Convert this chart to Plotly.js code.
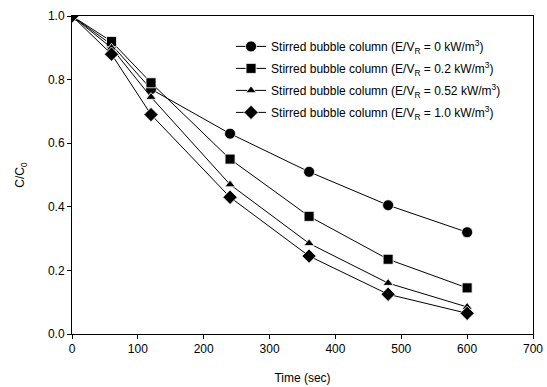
<!DOCTYPE html>
<html><head><meta charset="utf-8">
<script src="https://cdn.plot.ly/plotly-3.0.1.min.js"></script>
<style>body{margin:0;background:#fff}#g{width:547px;height:387px}</style>
</head><body><div id="g"></div>
<script>
const time = [0, 60, 120, 240, 360, 480, 600];
const s0 = [1.0, 0.91, 0.77, 0.63, 0.51, 0.405, 0.32];
const s02 = [1.0, 0.92, 0.79, 0.55, 0.37, 0.235, 0.145];
const s052 = [1.0, 0.90, 0.745, 0.47, 0.285, 0.16, 0.085];
const s10 = [1.0, 0.88, 0.69, 0.43, 0.245, 0.125, 0.065];
const names = [
  'Stirred bubble column (E/V<sub>R</sub> = 0 kW/m<sup>3</sup>)',
  'Stirred bubble column (E/V<sub>R</sub> = 0.2 kW/m<sup>3</sup>)',
  'Stirred bubble column (E/V<sub>R</sub> = 0.52 kW/m<sup>3</sup>)',
  'Stirred bubble column (E/V<sub>R</sub> = 1.0 kW/m<sup>3</sup>)'
];
const series = [s0, s02, s052, s10];
const symbols = ['circle', 'square', 'triangle-up', 'diamond'];
const sizes = [11, 10, 9, 11];
const traces = series.map((s, i) => ({
  x: time, y: s, name: names[i], type: 'scatter', mode: 'lines+markers',
  legendgroup: 'g' + i,
  line: {color: '#000', width: 1},
  marker: {symbol: symbols[i], size: sizes[i], color: '#000', line: {color: '#fff', width: 0.8}}
}));
const layout = {
  width: 547, height: 387,
  margin: {l: 72, r: 14, t: 16, b: 53},
  paper_bgcolor: '#fff', plot_bgcolor: '#fff',
  font: {family: 'Liberation Sans, Arial, sans-serif', size: 12, color: '#000'},
  showlegend: true,
  legend: {x: 0.345, y: 0.95, xanchor: 'left', yanchor: 'top', bgcolor: 'rgba(0,0,0,0)',
    font: {size: 12}, itemwidth: 30, tracegroupgap: 3},
  xaxis: {range: [0, 700], dtick: 100, tick0: 0, showgrid: false, zeroline: false,
    showline: true, linecolor: '#000', linewidth: 1, mirror: true,
    ticks: 'outside', ticklen: 4, tickcolor: '#000',
    title: {text: 'Time (sec)', font: {size: 12}, standoff: 18}},
  yaxis: {range: [0, 1.0], dtick: 0.2, tick0: 0, showgrid: false, zeroline: false,
    showline: true, linecolor: '#000', linewidth: 1, mirror: true,
    ticks: 'outside', ticklen: 4, tickcolor: '#000', tickformat: '.1f',
    title: {text: 'C/C<sub>0</sub>', font: {size: 12}, standoff: 20}}
};
Plotly.newPlot('g', traces, layout, {displayModeBar: false, staticPlot: true});
</script></body></html>
